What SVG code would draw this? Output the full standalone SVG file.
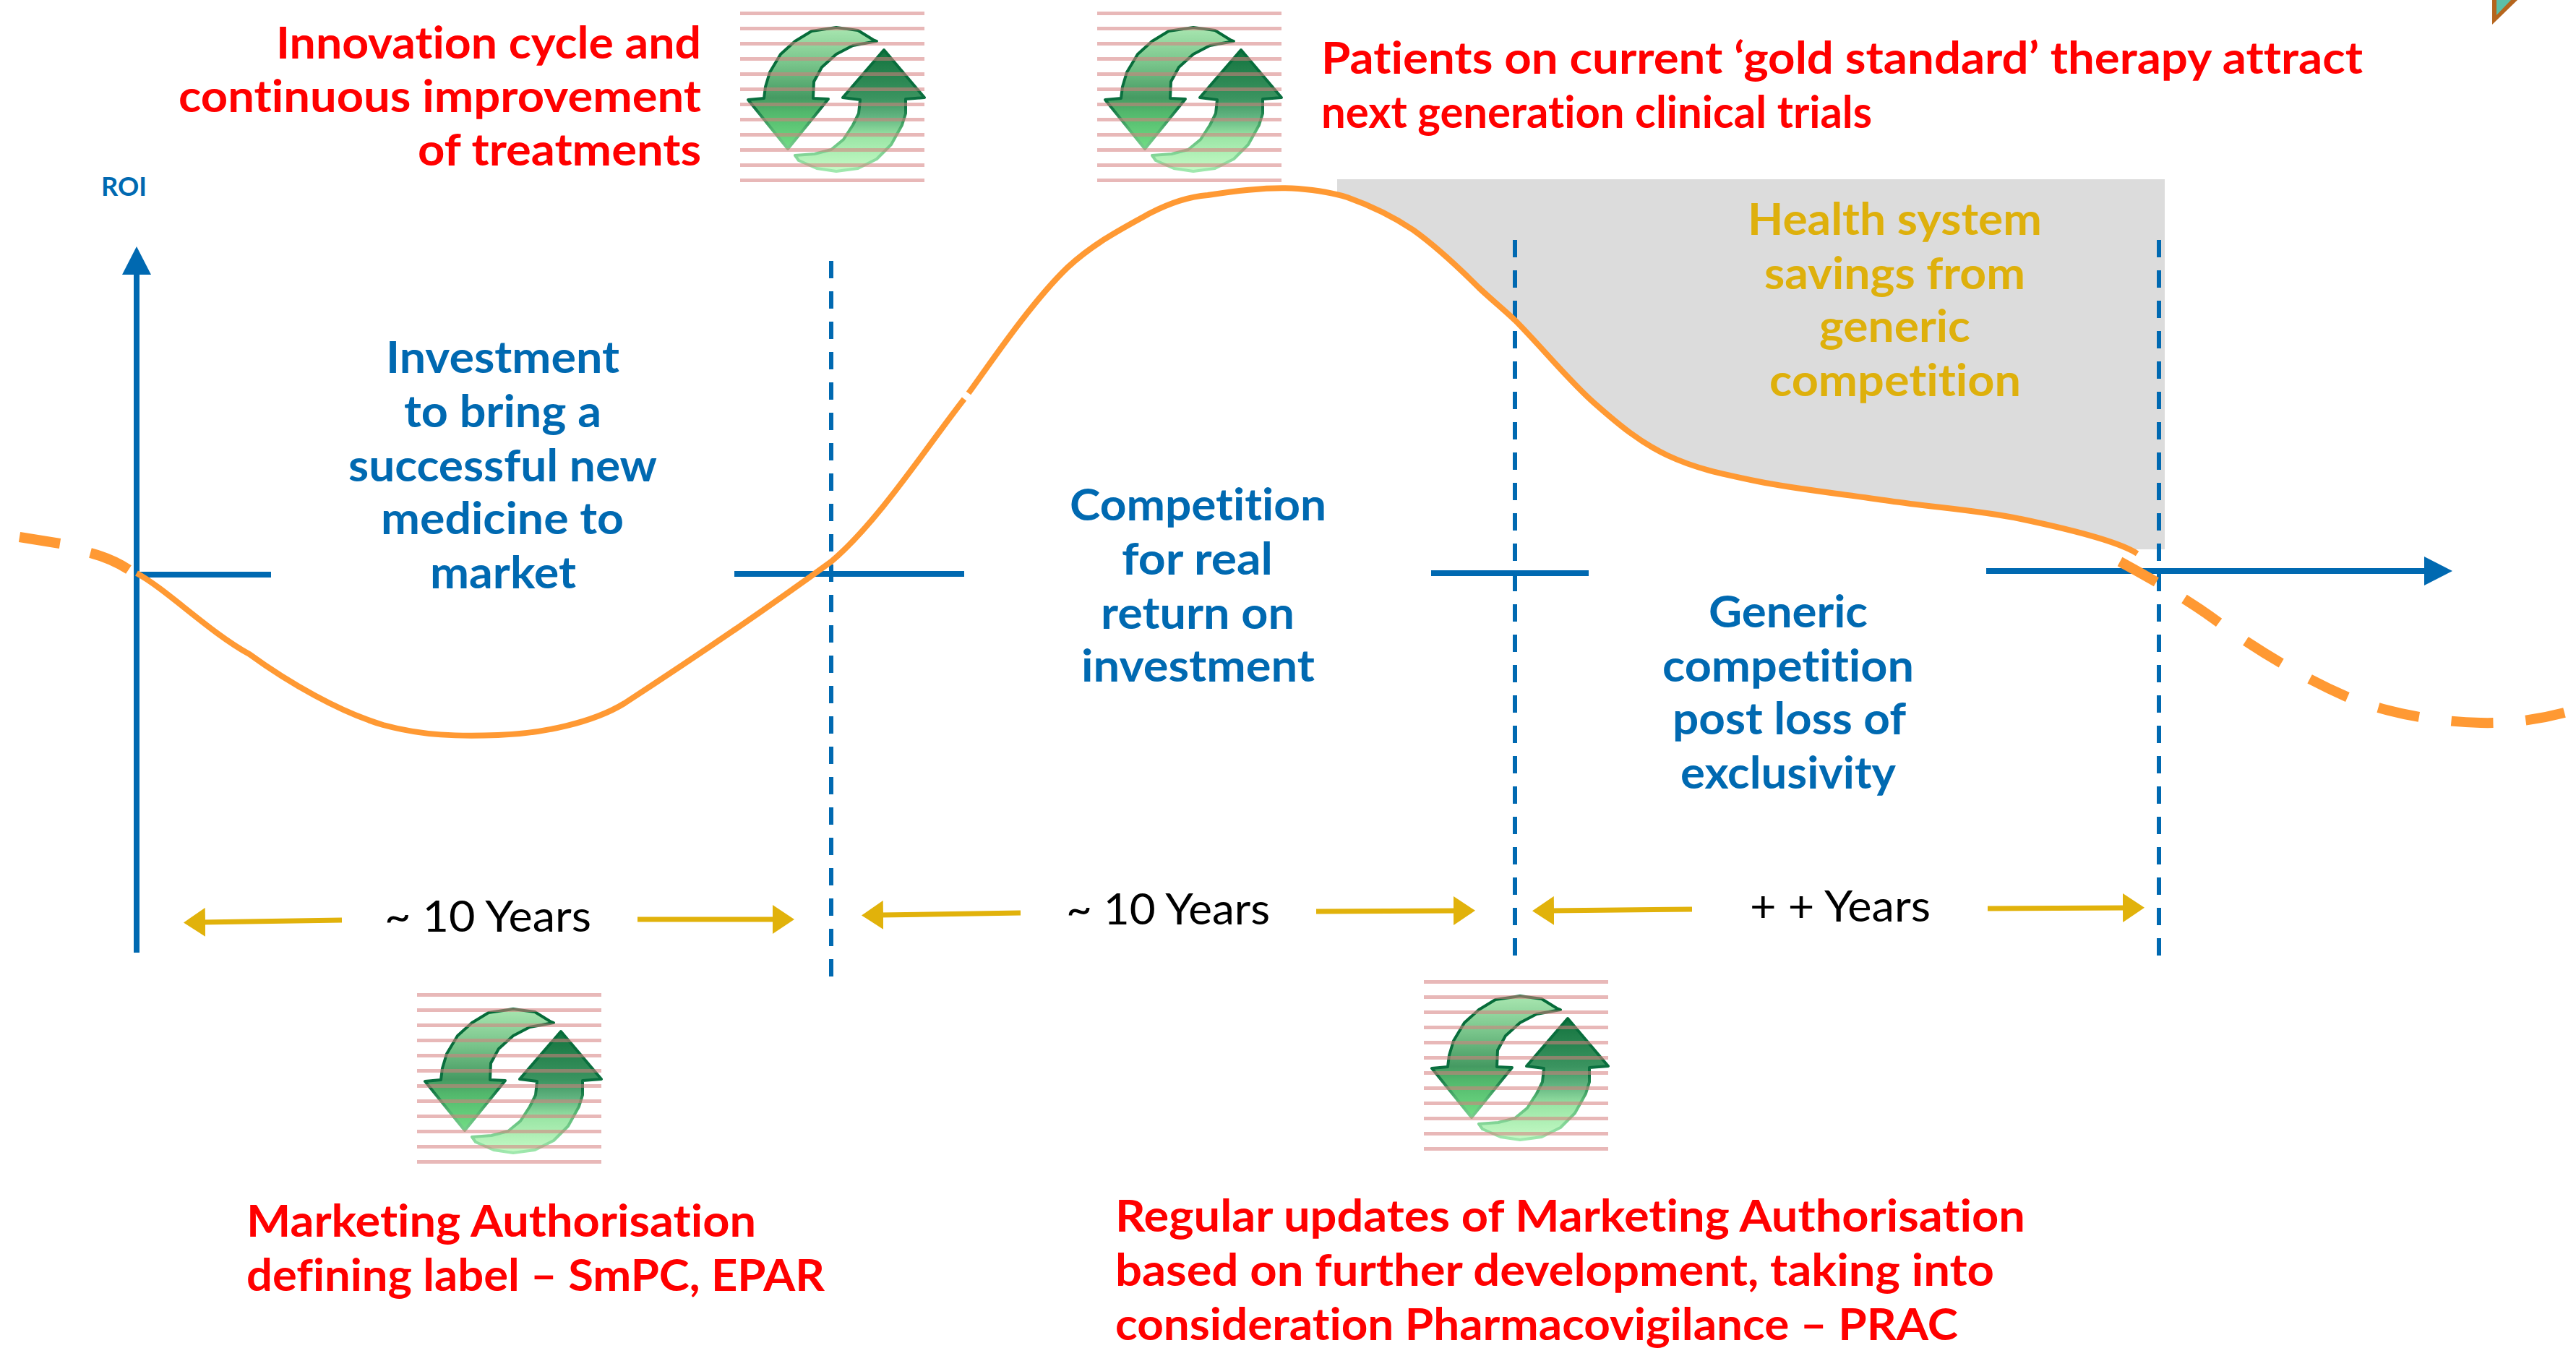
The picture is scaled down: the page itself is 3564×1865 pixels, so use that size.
<svg xmlns="http://www.w3.org/2000/svg" xmlns:xlink="http://www.w3.org/1999/xlink" width="3564" height="1865" viewBox="0 0 3564 1865">
<style>
text{font-family:Lato,"Open Sans","Liberation Sans",sans-serif;font-weight:700;font-size:61px;font-variant-ligatures:none}
.red{fill:#ff0000}.blue{fill:#0069b1}.gold{fill:#deb00c}
.blk{fill:#000;font-weight:400;font-size:60px}
.roi{font-size:36px}
.ax{fill:none;stroke:#0069b1;stroke-width:8}
.dv{fill:none;stroke:#0069b1;stroke-width:6;stroke-dasharray:24 18}
.thin{fill:none;stroke:#ff9933;stroke-width:8}
.thick{fill:none;stroke:#ff9933;stroke-width:14}
.yl{fill:none;stroke:#e1b20b;stroke-width:7}
.st{fill:#d57e7e;fill-opacity:.55}
</style>
<defs>
<marker id="bh" viewBox="0 0 39 40" refX="5" refY="20" markerWidth="39" markerHeight="40" markerUnits="userSpaceOnUse" orient="auto"><path d="M0 0L39 20L0 40Z" fill="#0069b1"/></marker>
<marker id="yh" viewBox="0 0 30 40" refX="5" refY="20" markerWidth="30" markerHeight="40" markerUnits="userSpaceOnUse" orient="auto"><path d="M0 0L30 20L0 40Z" fill="#e1b20b"/></marker>
<linearGradient id="gd" gradientUnits="userSpaceOnUse" x1="0" y1="22" x2="0" y2="190">
<stop offset="0" stop-color="#a8e6b0"/><stop offset=".3" stop-color="#78c48a"/><stop offset=".58" stop-color="#459a62"/><stop offset=".7" stop-color="#52b86c"/><stop offset="1" stop-color="#72de85"/></linearGradient>
<linearGradient id="gu" gradientUnits="userSpaceOnUse" x1="0" y1="53" x2="0" y2="221">
<stop offset="0" stop-color="#12733e"/><stop offset=".4" stop-color="#3b9460"/><stop offset=".55" stop-color="#62b480"/><stop offset=".72" stop-color="#9be6a6"/><stop offset="1" stop-color="#c6fac6"/></linearGradient>
<linearGradient id="gs" gradientUnits="userSpaceOnUse" x1="0" y1="22" x2="0" y2="221">
<stop offset="0" stop-color="#056b38"/><stop offset=".55" stop-color="#0b7040"/><stop offset=".72" stop-color="#58b874"/><stop offset="1" stop-color="#a0e8ae"/></linearGradient>
<g id="cyc">
<path d="M66 190L11 122L33 120L35 104L41 84L56 59L76 41L99 27L133 22L163 26L184 39L189 41L156 47L133 59L113 77L102 97L101 120L122 121Z" fill="url(#gd)" stroke="url(#gs)" stroke-width="4" stroke-linejoin="round"/>
<path d="M199 53L255 119L229 121L229 141L224 157L209 184L189 204L163 217L133 221L106 217L81 206L76 199L103 197L126 191L143 177L156 157L164 141L166 122L142 119Z" fill="url(#gu)" stroke="url(#gs)" stroke-width="4" stroke-linejoin="round"/>
<g class="st"><rect x="0" y="0" width="255" height="5"/><rect x="0" y="21" width="255" height="5"/><rect x="0" y="42" width="255" height="5"/><rect x="0" y="63" width="255" height="5"/><rect x="0" y="84" width="255" height="5"/><rect x="0" y="105" width="255" height="5"/><rect x="0" y="126" width="255" height="5"/><rect x="0" y="147" width="255" height="5"/><rect x="0" y="168" width="255" height="5"/><rect x="0" y="189" width="255" height="5"/><rect x="0" y="210" width="255" height="5"/><rect x="0" y="231" width="255" height="5"/></g>
</g>
</defs>
<rect width="3564" height="1865" fill="#fff"/>
<path id="savings-area" d="M1850 248L1850 269L1864 273C1895 284 1925 298 1955 318C1990 343 2020 372 2046 398C2063 414 2080 428 2096 443C2130 477 2170 526 2205 557C2240 588 2269 612 2307 630C2345 648 2381 655.5 2432 666C2483 676.5 2553 684 2614 693C2675 702 2739 706 2796 718C2853 730 2910 742 2945 760L2995 760L2995 248Z" fill="#dcdcdc"/>
<g id="connectors">
<path class="ax" d="M189 1318V375" marker-end="url(#bh)"/>
<path class="ax" d="M189 795H375M1016 794H1334M1980 793H2198"/>
<path class="ax" d="M2748 790H3359" marker-end="url(#bh)"/>
<path class="dv" d="M1150 361V1355"/>
<path class="dv" d="M2096 332V1325"/>
<path class="dv" d="M2987 332V1325"/>
<path class="thin" d="M189 793C230 815 290 875 345 905C400 945 470 985 530 1003C585 1018 635 1019 689 1017C750 1015 820 1000 864 973C930 930 1050 850 1150 777C1215 722 1283 617 1334 552"/>
<path class="thin" d="M1340 544C1365 510 1425 420 1477 370C1515 335 1555 315 1591 295C1620 280 1645 272 1671 270C1715 263 1760 258 1796 261C1820 263 1842 266 1864 273C1895 284 1925 298 1955 318C1990 343 2020 372 2046 398C2063 414 2080 428 2096 443C2130 477 2170 526 2205 557C2240 588 2269 612 2307 630C2345 648 2381 655.5 2432 666C2483 676.5 2553 684 2614 693C2675 702 2739 706 2796 718C2853 730 2930 748 2957 766"/>
<path class="thick" d="M27 743L83 752M125 765Q155 773 178 788"/>
<path class="thick" stroke-dasharray="58 45" d="M2933 777C2975 800 3025 828 3071 862C3115 894 3180 935 3249 965C3300 985 3360 998 3432 1000C3470 1001 3510 996 3548 986"/>
<path class="yl" d="M473 1273L279 1276" marker-end="url(#yh)"/>
<path class="yl" d="M882 1272H1074" marker-end="url(#yh)"/>
<path class="yl" d="M1412 1263L1217 1266" marker-end="url(#yh)"/>
<path class="yl" d="M1821 1261L2016 1260" marker-end="url(#yh)"/>
<path class="yl" d="M2341 1258L2145 1260" marker-end="url(#yh)"/>
<path class="yl" d="M2750 1257L2942 1256" marker-end="url(#yh)"/>
</g>
<g id="icon-1"><use xlink:href="#cyc" href="#cyc" x="1024" y="16"/></g>
<g id="icon-2"><use xlink:href="#cyc" href="#cyc" x="1518" y="16"/></g>
<g id="icon-3"><use xlink:href="#cyc" href="#cyc" x="577" y="1374"/></g>
<g id="icon-4"><use xlink:href="#cyc" href="#cyc" x="1970" y="1356"/></g>
<g id="label-roi"><text class="blue roi" x="140" y="271" textLength="63" lengthAdjust="spacingAndGlyphs">ROI</text></g>
<g id="label-innovation" class="red">
<text x="382" y="81" textLength="588" lengthAdjust="spacingAndGlyphs">Innovation cycle and</text>
<text x="247" y="155" textLength="723" lengthAdjust="spacingAndGlyphs">continuous improvement</text>
<text x="578" y="229" textLength="392" lengthAdjust="spacingAndGlyphs">of treatments</text>
</g>
<g id="label-patients" class="red">
<text x="1828" y="102" textLength="1441" lengthAdjust="spacingAndGlyphs">Patients on current ‘gold standard’ therapy attract</text>
<text x="1828" y="177" textLength="762" lengthAdjust="spacingAndGlyphs">next generation clinical trials</text>
</g>
<g id="label-health" class="gold">
<text x="2418" y="325" textLength="407" lengthAdjust="spacingAndGlyphs">Health system</text>
<text x="2441" y="400" textLength="361" lengthAdjust="spacingAndGlyphs">savings from</text>
<text x="2517" y="473" textLength="209" lengthAdjust="spacingAndGlyphs">generic</text>
<text x="2448" y="548" textLength="348" lengthAdjust="spacingAndGlyphs">competition</text>
</g>
<g id="label-investment" class="blue">
<text x="534" y="516" textLength="323" lengthAdjust="spacingAndGlyphs">Investment</text>
<text x="559" y="591" textLength="273" lengthAdjust="spacingAndGlyphs">to bring a</text>
<text x="482" y="666" textLength="427" lengthAdjust="spacingAndGlyphs">successful new</text>
<text x="527" y="739" textLength="336" lengthAdjust="spacingAndGlyphs">medicine to</text>
<text x="595" y="814" textLength="202" lengthAdjust="spacingAndGlyphs">market</text>
</g>
<g id="label-competition" class="blue">
<text x="1480" y="720" textLength="355" lengthAdjust="spacingAndGlyphs">Competition</text>
<text x="1552" y="795" textLength="209" lengthAdjust="spacingAndGlyphs">for real</text>
<text x="1523" y="870" textLength="268" lengthAdjust="spacingAndGlyphs">return on</text>
<text x="1496" y="943" textLength="323" lengthAdjust="spacingAndGlyphs">investment</text>
</g>
<g id="label-generic" class="blue">
<text x="2364" y="868" textLength="220" lengthAdjust="spacingAndGlyphs">Generic</text>
<text x="2300" y="943" textLength="348" lengthAdjust="spacingAndGlyphs">competition</text>
<text x="2314" y="1016" textLength="323" lengthAdjust="spacingAndGlyphs">post loss of</text>
<text x="2325" y="1091" textLength="298" lengthAdjust="spacingAndGlyphs">exclusivity</text>
</g>
<g id="label-years">
<text class="blk" x="532" y="1289" textLength="286" lengthAdjust="spacingAndGlyphs">~ 10 Years</text>
<text class="blk" x="1475" y="1279" textLength="282" lengthAdjust="spacingAndGlyphs">~ 10 Years</text>
<text class="blk" x="2421" y="1275" textLength="250" lengthAdjust="spacingAndGlyphs">+ + Years</text>
</g>
<g id="label-ma" class="red">
<text x="341" y="1711" textLength="705" lengthAdjust="spacingAndGlyphs">Marketing Authorisation</text>
<text x="341" y="1786" textLength="800" lengthAdjust="spacingAndGlyphs">defining label – SmPC, EPAR</text>
</g>
<g id="label-updates" class="red">
<text x="1543" y="1704" textLength="1259" lengthAdjust="spacingAndGlyphs">Regular updates of Marketing Authorisation</text>
<text x="1543" y="1779" textLength="1216" lengthAdjust="spacingAndGlyphs">based on further development, taking into</text>
<text x="1543" y="1854" textLength="1166" lengthAdjust="spacingAndGlyphs">consideration Pharmacovigilance – PRAC</text>
</g>
<path id="corner-mark" d="M3448 34L3483 0H3448Z" fill="#b5651d"/>
<path d="M3454 21L3474 0H3454Z" fill="#5bbfa8"/>
</svg>
